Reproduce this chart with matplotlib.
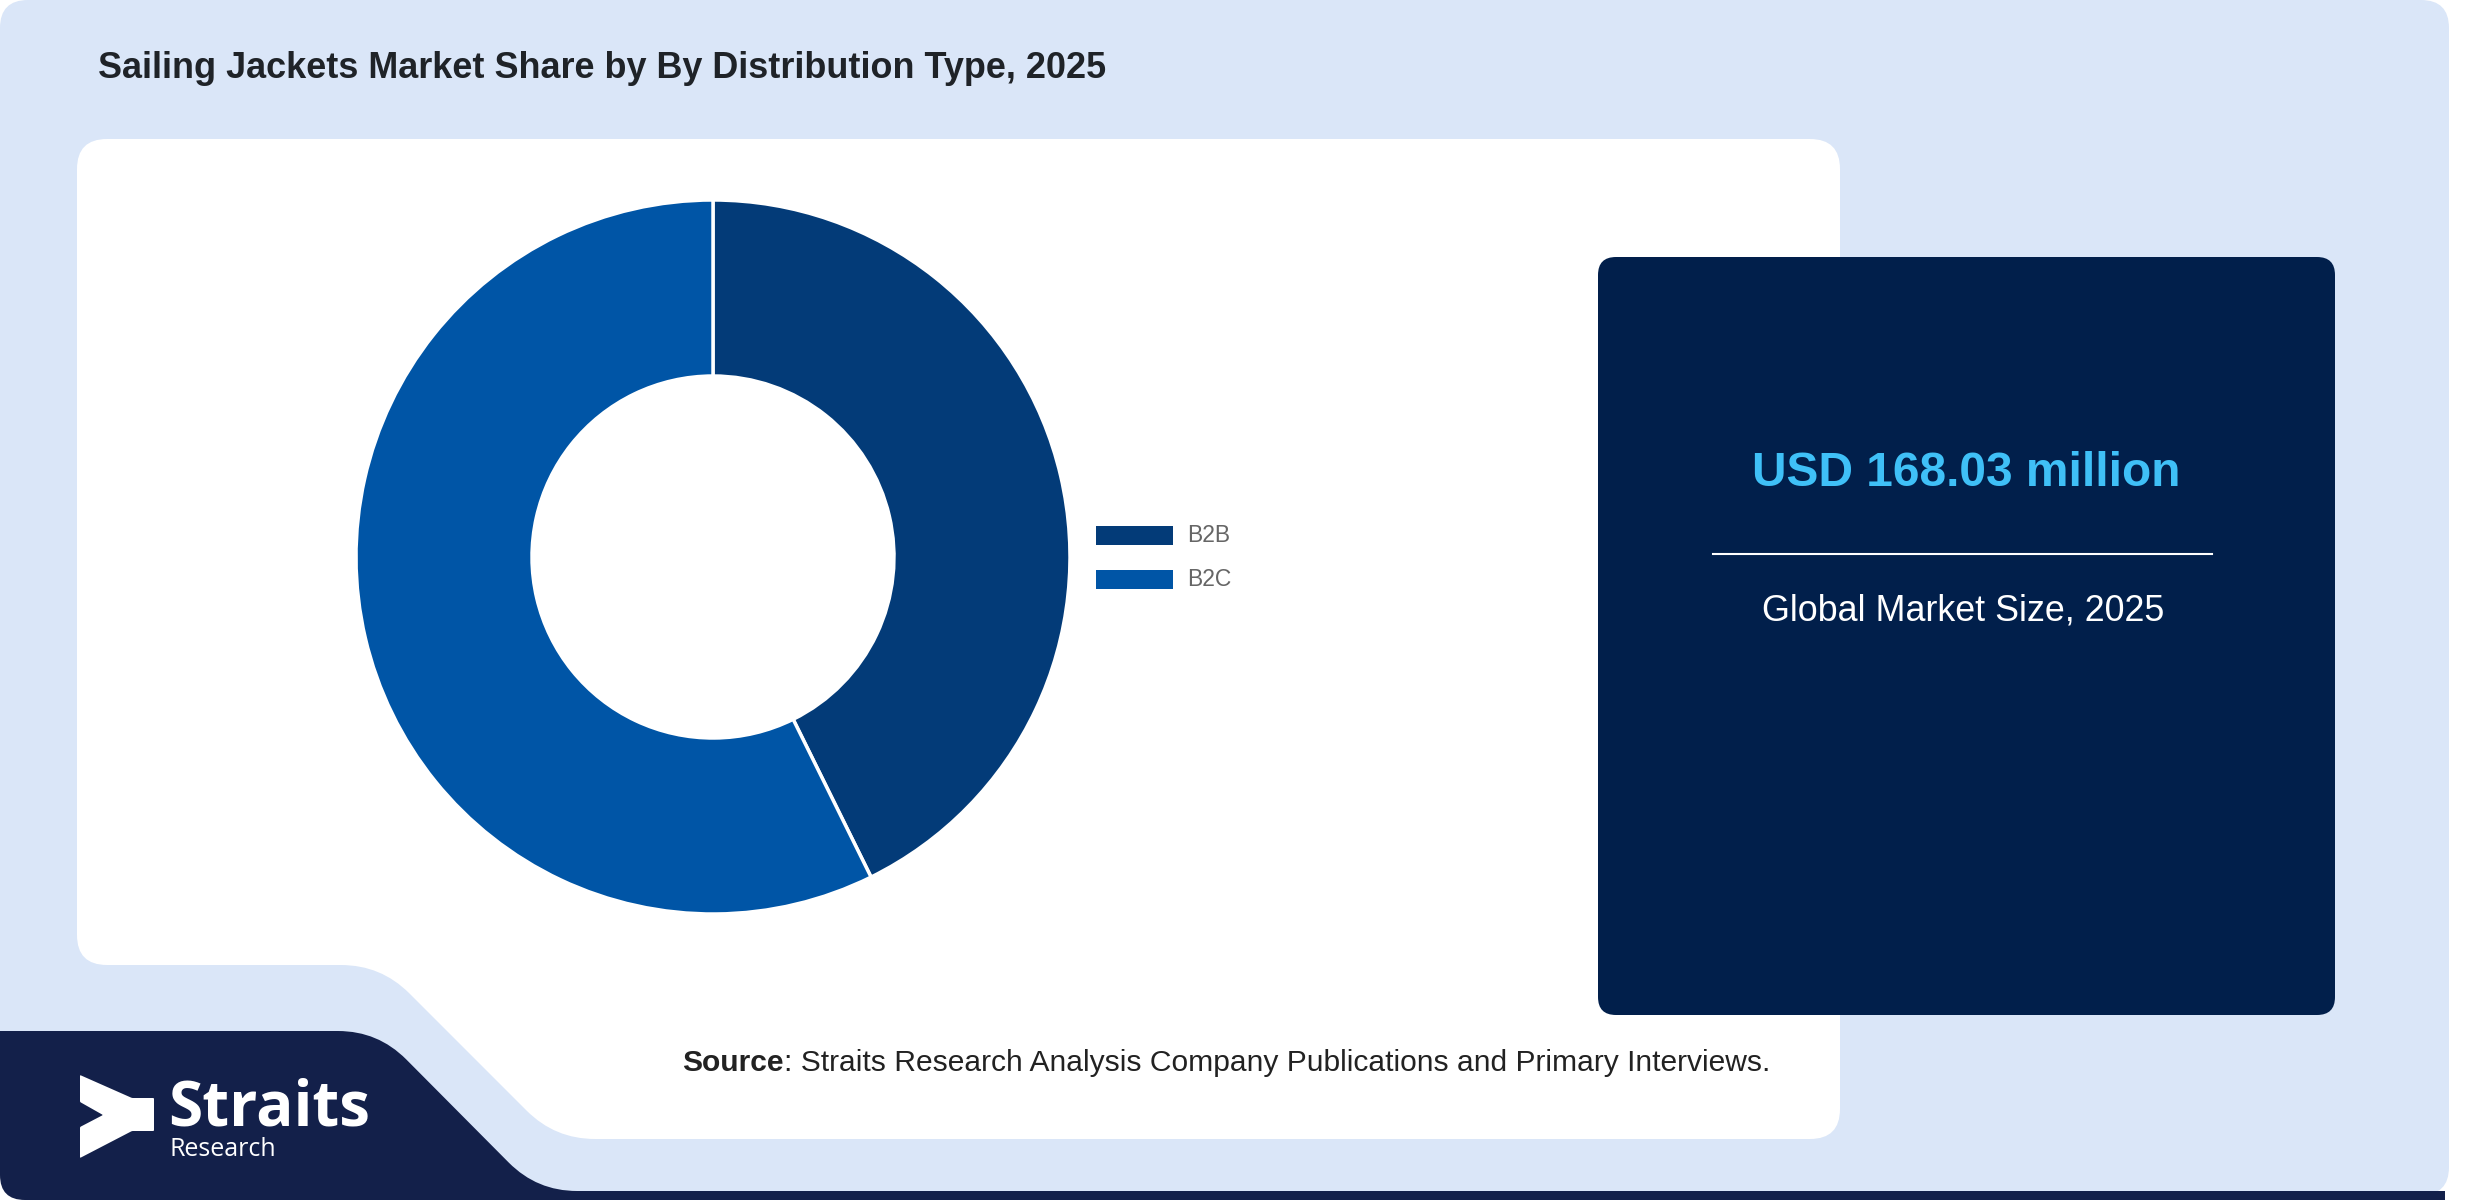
import numpy as np
import matplotlib
matplotlib.use("Agg")
import matplotlib.pyplot as plt
from matplotlib.path import Path
from matplotlib.patches import PathPatch, Rectangle

# ---------------- data ----------------
categories = ["B2B", "B2C"]
shares = [42.7, 57.3]
title = "Sailing Jackets Market Share by By Distribution Type, 2025"
market_value = "USD 168.03 million"
market_label = "Global Market Size, 2025"
source_bold = "Source"
source_rest = ": Straits Research Analysis Company Publications and Primary Interviews."

# ---------------- style ----------------
W, H = 2480, 1200
C_BG = "#dae6f8"
C_NAVY = "#13204a"
C_BOX = "#011f4b"
C_SLICES = ["#033b78", "#0055a6"]
C_VALUE = "#3fc0f7"
FONT = "Liberation Sans"
LOGO_FONT = "Open Sans"

fig = plt.figure(figsize=(W / 100, H / 100), dpi=100, facecolor="white")
bg = fig.add_axes([0, 0, 1, 1])
bg.set_xlim(0, W)
bg.set_ylim(H, 0)
bg.axis("off")


def rounded_path(pts, radii):
    n = len(pts)
    if np.isscalar(radii):
        radii = [radii] * n
    verts, codes = [], []
    for i in range(n):
        p0 = np.array(pts[i - 1], float)
        p1 = np.array(pts[i], float)
        p2 = np.array(pts[(i + 1) % n], float)
        d1 = p0 - p1
        l1 = np.linalg.norm(d1)
        d2 = p2 - p1
        l2 = np.linalg.norm(d2)
        r = min(radii[i], l1 / 2, l2 / 2)
        a = p1 + d1 / l1 * r
        b = p1 + d2 / l2 * r
        verts.append(a)
        codes.append(Path.MOVETO if i == 0 else Path.LINETO)
        verts += [p1, b]
        codes += [Path.CURVE3, Path.CURVE3]
    verts.append(verts[0])
    codes.append(Path.CLOSEPOLY)
    return Path(verts, codes)


def shape(pts, radii, color, z=1):
    bg.add_patch(PathPatch(rounded_path(pts, radii), facecolor=color,
                           edgecolor="none", zorder=z))


# light panel
shape([(0, 0), (2449, 0), (2449, 1195), (0, 1195)], 28, C_BG, 1)
# white chart panel with notch
shape([(77, 139), (1840, 139), (1840, 1139), (555, 1139), (381, 965), (77, 965)],
      [30, 30, 30, 40, 40, 30], "white", 2)
# navy footer band
shape([(0, 1031), (378, 1031), (537, 1191), (2445, 1191), (2445, 1200), (0, 1200)],
      [0, 40, 40, 0, 0, 25], C_NAVY, 2)
# dark info box
shape([(1598, 257), (2335, 257), (2335, 1015), (1598, 1015)], 18, C_BOX, 3)

renderer = fig.canvas.get_renderer()


def fit(t, target_w):
    bb = t.get_window_extent(renderer)
    t.set_fontsize(t.get_fontsize() * target_w / bb.width)
    return t


# title
t = bg.text(98, 68, title, fontsize=20, fontweight="bold", color="#1f2328",
            family=FONT, ha="left", va="center", zorder=5)
fit(t, 1005)

# info box texts
t = bg.text(1966, 473, market_value, fontsize=30, fontweight="bold", color=C_VALUE,
            family=FONT, ha="center", va="center", zorder=5)
fit(t, 429)
bg.plot([1713, 2212], [554, 554], color="white", lw=1.5, zorder=5)
t = bg.text(1963, 611, market_label, fontsize=20, color="white",
            family=FONT, ha="center", va="center", zorder=5)
fit(t, 403)

# source line
s1 = bg.text(682, 1063, source_bold, fontsize=20, fontweight="bold", color="#222222",
             family=FONT, ha="left", va="center", zorder=5)
w1 = s1.get_window_extent(renderer).width
s2 = bg.text(682 + w1, 1063, source_rest, fontsize=20, color="#222222",
             family=FONT, ha="left", va="center", zorder=5)
w2 = s2.get_window_extent(renderer).width
k = 1087 / (w1 + w2)
s1.set_fontsize(20 * k)
s2.set_fontsize(20 * k)
s2.set_x(682 + w1 * k)

# donut
cx, cy, R = 713, 557, 357
ax = fig.add_axes([(cx - R) / W, (H - cy - R) / H, 2 * R / W, 2 * R / H])
ax.pie(shares, colors=C_SLICES, startangle=90, counterclock=False, radius=1,
       wedgeprops=dict(width=0.493, edgecolor="white", linewidth=2.5))
ax.set_xlim(-1, 1)
ax.set_ylim(-1, 1)
ax.set_aspect("equal")
ax.axis("off")

# legend
for i, (lab, col) in enumerate(zip(categories, C_SLICES)):
    yc = 535 + i * 44
    bg.add_patch(Rectangle((1096, yc - 9.5), 77, 19, facecolor=col, edgecolor="none", zorder=5))
    bg.text(1187, yc, lab, fontsize=16.5, color="#666666", family=FONT,
            ha="left", va="center", zorder=5)

# logo
arrow = [(80, 1075), (132, 1098), (154, 1098), (154, 1131), (132, 1131),
         (80, 1158), (80, 1127), (103, 1115), (80, 1102)]
bg.add_patch(PathPatch(rounded_path(arrow, 1), facecolor="white", edgecolor="none", zorder=5))
t = bg.text(168, 1126, "Straits", fontsize=40, fontweight="bold", color="white",
            family=LOGO_FONT, ha="left", va="baseline", zorder=5)
fit(t, 202)
t = bg.text(170, 1156, "Research", fontsize=16, color="white",
            family=LOGO_FONT, ha="left", va="baseline", zorder=5)
fit(t, 107)

fig.savefig("out.png", dpi=100, facecolor="white")
